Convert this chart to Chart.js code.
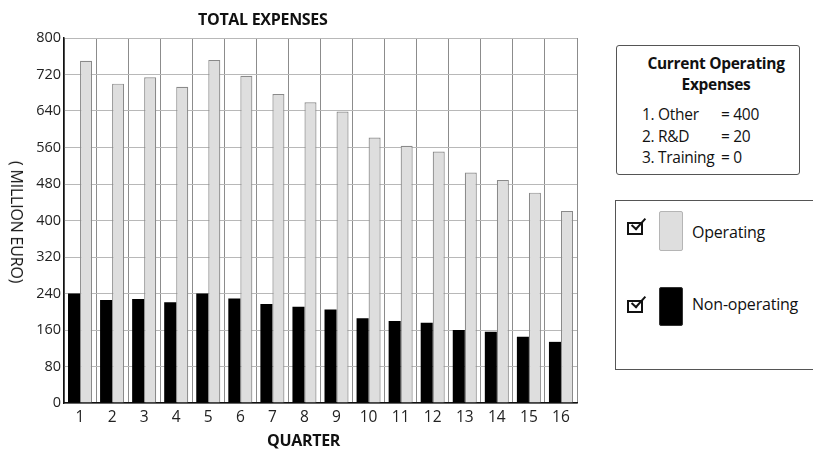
<!DOCTYPE html>
<html>
<head>
<meta charset="utf-8">
<script src="https://cdn.jsdelivr.net/npm/chart.js@4.4.1/dist/chart.umd.min.js"></script>
<style>
  html, body { margin: 0; padding: 0; background: #fff; }
  body { font-family: "Open Sans", "Noto Sans", sans-serif; color: #111; }
  #wrap { position: relative; width: 813px; height: 450px; overflow: hidden; }
  #chartBox { position: absolute; left: 0; top: 0; width: 600px; height: 450px; }
  .abs { position: absolute; white-space: nowrap; }
  #title { left: 198px; top: 8px; font-weight: 700; font-size: 16px; line-height: 22px; letter-spacing: -0.3px; }
  #xtitle { left: 267px; top: 429px; font-weight: 700; font-size: 16px; line-height: 22px; letter-spacing: -0.3px; }
  #ytitle { left: 17px; top: 222px; font-size: 16px; line-height: 18px; letter-spacing: -0.2px; transform: translate(-50%, -50%) rotate(90deg); }
  #box1 { left: 616px; top: 45px; width: 182px; height: 128px; border: 1.5px solid #555; border-radius: 3px; }
  #box1 .hd { position: absolute; left: 0; width: 100%; padding-left: 16px; box-sizing: border-box; text-align: center; font-weight: 700; font-size: 15.5px; line-height: 21px; top: 7px; letter-spacing: -0.3px; }
  #box1 .it { position: absolute; font-size: 15.5px; line-height: 21px; letter-spacing: -0.3px; }
  #box2 { left: 615px; top: 200px; width: 240px; height: 168px; border: 1.5px solid #555; }
  .chk { position: absolute; width: 12px; height: 9px; border: 2px solid #111; }
  .chk::after { content: ""; position: absolute; left: 6px; top: -9px; width: 5px; height: 13px; border-right: 2.5px solid #111; border-bottom: 2.5px solid #111; transform: rotate(42deg); }
  .sw { position: absolute; width: 22px; border-radius: 2px; }
  .lt { position: absolute; font-size: 16px; line-height: 20px; letter-spacing: -0.2px; }
</style>
</head>
<body>
<div id="wrap">
  <div id="chartBox"><canvas id="c"></canvas></div>
  <div class="abs" id="title">TOTAL EXPENSES</div>
  <div class="abs" id="xtitle">QUARTER</div>
  <div class="abs" id="ytitle">( MILLION EURO)</div>

  <div class="abs" id="box1">
    <div class="hd">Current Operating<br>Expenses</div>
    <div class="it" style="left:25px; top:58px;">1. Other</div>
    <div class="it" style="left:104px; top:58px;">= 400</div>
    <div class="it" style="left:25px; top:80px;">2. R&amp;D</div>
    <div class="it" style="left:104px; top:80px;">= 20</div>
    <div class="it" style="left:25px; top:101px;">3. Training</div>
    <div class="it" style="left:104px; top:101px;">= 0</div>
  </div>

  <div class="abs" id="box2">
    <div class="chk" style="left:11px; top:21px;"></div>
    <div class="sw" style="left:43px; top:10px; height:38px; background:#dedede; border:1px solid #b5b5b5;"></div>
    <div class="lt" style="left:76px; top:21px;">Operating</div>
    <div class="chk" style="left:11px; top:99px;"></div>
    <div class="sw" style="left:43px; top:86px; height:37px; background:#000; border:1px solid #333;"></div>
    <div class="lt" style="left:76px; top:93px;">Non-operating</div>
  </div>
</div>
<script>
const quarters = ["1","2","3","4","5","6","7","8","9","10","11","12","13","14","15","16"];
const operating = [750, 700, 714, 693, 752, 717, 677, 659, 639, 582, 564, 551, 505, 489, 461, 421];
const nonOperating = [240, 226, 228, 221, 240, 229, 217, 211, 205, 186, 180, 176, 160, 156, 145, 134];
const yTicks = { min: 0, max: 800, step: 80 };

const FONT = "'Open Sans', 'Noto Sans', sans-serif";

new Chart(document.getElementById('c'), {
  type: 'bar',
  data: {
    labels: quarters,
    datasets: [
      {
        label: 'Non-operating',
        data: nonOperating,
        backgroundColor: '#000000',
        borderColor: '#222222',
        borderWidth: 0,
        categoryPercentage: 0.75,
        barPercentage: 1.0
      },
      {
        label: 'Operating',
        data: operating,
        backgroundColor: '#dedede',
        borderColor: '#8a8a8a',
        borderWidth: 1.2,
        borderSkipped: 'bottom',
        categoryPercentage: 0.75,
        barPercentage: 1.0
      }
    ]
  },
  options: {
    responsive: true,
    maintainAspectRatio: false,
    animation: false,
    layout: { padding: { top: 38, right: 23, left: 0, bottom: 0 } },
    plugins: {
      legend: { display: false },
      title: { display: false },
      tooltip: { enabled: false }
    },
    scales: {
      x: {
        offset: true,
        grid: { offset: true, color: '#8c8c8c', lineWidth: 1, drawTicks: false },
        border: { display: true, color: '#111', width: 1.5 },
        ticks: { color: '#222', font: { family: FONT, size: 15.5 }, padding: 5, maxRotation: 0 },
        afterFit: (s) => { s.height = 47; }
      },
      y: {
        min: yTicks.min,
        max: yTicks.max,
        grid: { color: '#b8b8b8', lineWidth: 1, drawTicks: false },
        border: { display: true, color: '#111', width: 1.5 },
        ticks: { stepSize: yTicks.step, color: '#222', font: { family: FONT, size: 14.5 }, padding: 3 },
        afterFit: (s) => { s.width = 64; }
      }
    }
  }
});
</script>
</body>
</html>
